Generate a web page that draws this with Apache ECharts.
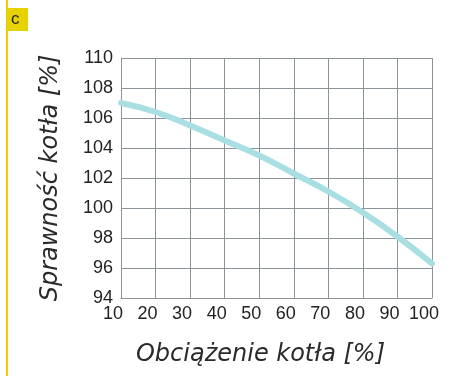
<!DOCTYPE html>
<html><head><meta charset="utf-8">
<script src="https://cdn.jsdelivr.net/npm/echarts@6/dist/echarts.min.js"></script>
<style>html,body{margin:0;padding:0;background:#fff}#c{width:452px;height:376px}</style>
</head><body><div id="c"></div>
<script>
const loads = [10, 20, 30, 40, 50, 60, 70, 80, 90, 100];
const efficiency = [107.0, 106.4, 105.5, 104.5, 103.5, 102.3, 101.1, 99.7, 98.1, 96.3];
const xTicks = [10, 20, 30, 40, 50, 60, 70, 80, 90, 100];
const yTicks = [94, 96, 98, 100, 102, 104, 106, 108, 110];
const xTitle = 'Obciążenie kotła [%]';
const yTitle = 'Sprawność kotła [%]';
const panelLabel = 'c';

const chart = echarts.init(document.getElementById('c'));
const gridColor = '#8c9399';
chart.setOption({
  animation: false,
  backgroundColor: '#fff',
  grid: {left: 121, right: 20, top: 58, bottom: 78},
  xAxis: {
    type: 'value', min: xTicks[0], max: xTicks[xTicks.length - 1], interval: 10,
    axisLine: {show: true, lineStyle: {color: gridColor, width: 1}},
    axisTick: {show: false},
    splitLine: {show: true, lineStyle: {color: gridColor, width: 1}},
    axisLabel: {color: '#222', fontSize: 18, fontFamily: 'Liberation Sans, Arial', margin: 7, padding: [0, 16, 0, 0]},
    name: xTitle, nameLocation: 'middle', nameGap: 45,
    nameTextStyle: {color: '#2a2a2a', fontSize: 24, fontStyle: 'italic', fontFamily: 'DejaVu Sans', padding: [0, 32, 0, 0]}
  },
  yAxis: {
    type: 'value', min: yTicks[0], max: yTicks[yTicks.length - 1], interval: 2,
    axisLine: {show: true, lineStyle: {color: gridColor, width: 1}},
    axisTick: {show: false},
    splitLine: {show: true, lineStyle: {color: gridColor, width: 1}},
    axisLabel: {color: '#222', fontSize: 18, fontFamily: 'Liberation Sans, Arial', margin: 8},
    name: yTitle, nameLocation: 'middle', nameGap: 58, nameRotate: 90,
    nameTextStyle: {color: '#2a2a2a', fontSize: 24, fontStyle: 'italic', fontFamily: 'DejaVu Sans'}
  },
  series: [{
    type: 'line', smooth: true, symbol: 'none',
    data: loads.map((x, i) => [x, efficiency[i]]),
    lineStyle: {color: '#a9dfe2', width: 6, cap: 'round'}
  }],
  graphic: [
    {type: 'rect', shape: {x: 6, y: 0, width: 2, height: 376}, style: {fill: '#e6d200'}, z: 10},
    {type: 'rect', shape: {x: 6, y: 8, width: 22, height: 23}, style: {fill: '#e6d200'}, z: 10},
    {type: 'text', left: 11, top: 11, style: {text: panelLabel, fontSize: 17, fill: '#222', fontFamily: 'Liberation Sans, Arial'}, z: 11}
  ]
});
</script></body></html>
